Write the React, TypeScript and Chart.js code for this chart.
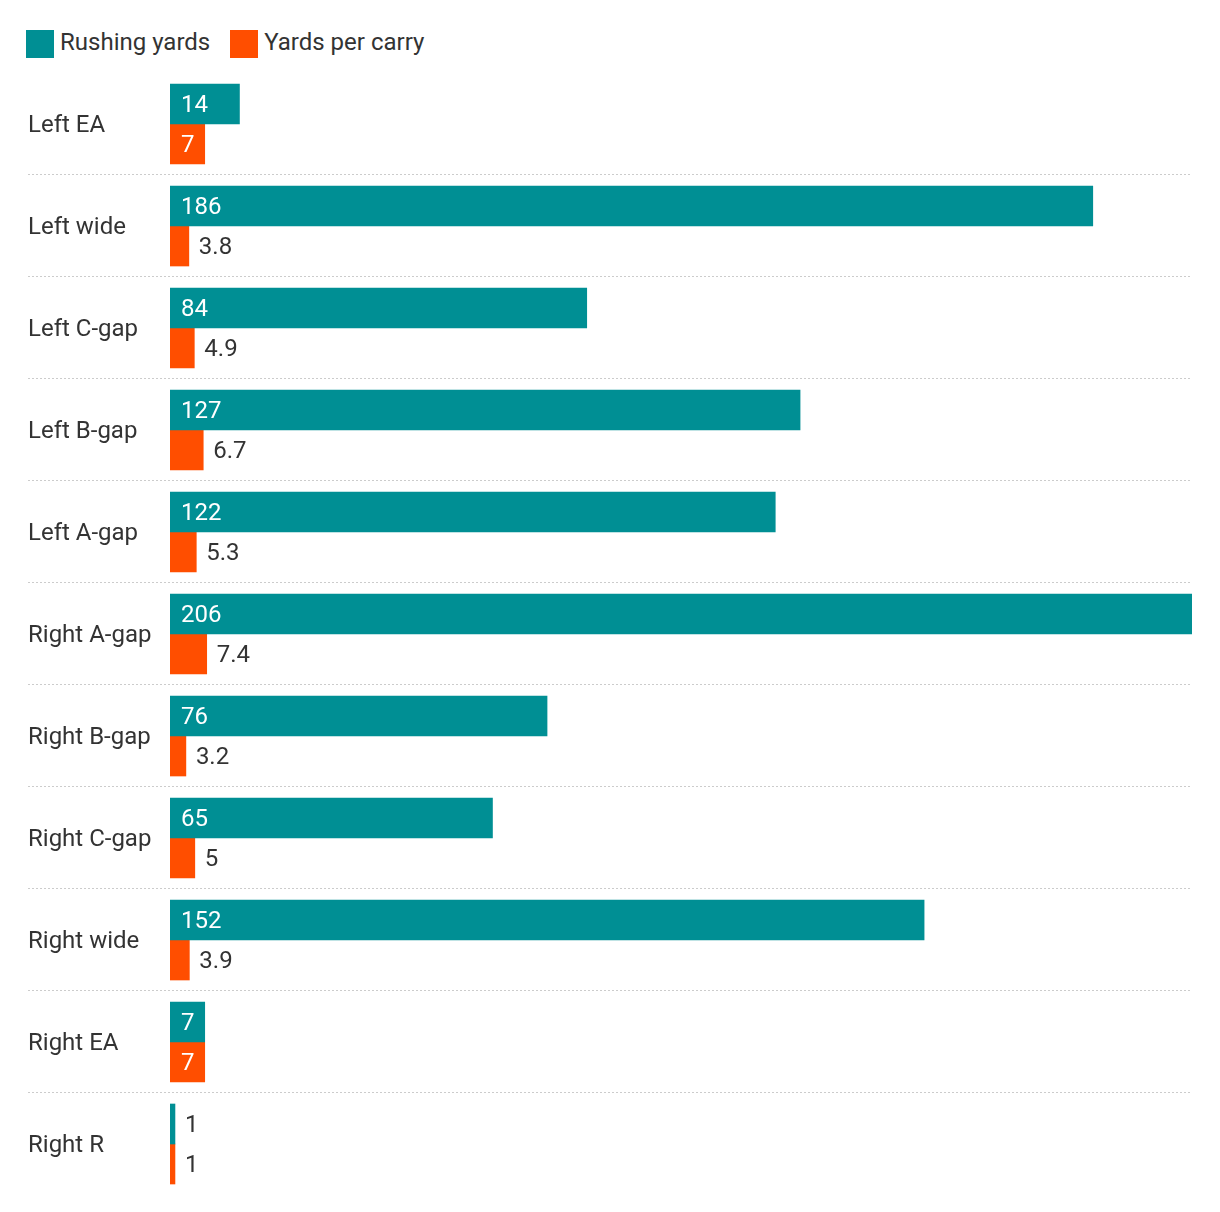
import React, { useEffect, useRef } from "react";
import { Chart, registerables } from "chart.js";

Chart.register(...registerables);

const categories = [
  "Left EA",
  "Left wide",
  "Left C-gap",
  "Left B-gap",
  "Left A-gap",
  "Right A-gap",
  "Right B-gap",
  "Right C-gap",
  "Right wide",
  "Right EA",
  "Right R",
];
const rushingYards = [14, 186, 84, 127, 122, 206, 76, 65, 152, 7, 1];
const yardsPerCarry = [7, 3.8, 4.9, 6.7, 5.3, 7.4, 3.2, 5, 3.9, 7, 1];

const TEAL = "#008f94";
const ORANGE = "#ff4e00";
const TEXT = "#333333";
const FONT = "Roboto, 'Noto Sans', sans-serif";

const separatorPlugin = {
  id: "separators",
  beforeDatasetsDraw(chart: any) {
    const { ctx, chartArea, scales } = chart;
    const y = scales.y;
    ctx.save();
    ctx.strokeStyle = "#cccccc";
    ctx.lineWidth = 1;
    ctx.setLineDash([2, 2]);
    for (let i = 0; i < categories.length - 1; i++) {
      const yy = Math.round((y.getPixelForValue(i) + y.getPixelForValue(i + 1)) / 2) - 0.5;
      ctx.beginPath();
      ctx.moveTo(20, yy);
      ctx.lineTo(chartArea.right, yy);
      ctx.stroke();
    }
    ctx.restore();
  },
};

const valueLabelPlugin = {
  id: "valueLabels",
  afterDatasetsDraw(chart: any) {
    const { ctx } = chart;
    ctx.save();
    ctx.font = `24px ${FONT}`;
    ctx.textBaseline = "middle";
    ctx.textAlign = "left";
    chart.data.datasets.forEach((ds: any, di: number) => {
      const meta = chart.getDatasetMeta(di);
      meta.data.forEach((bar: any, i: number) => {
        const v = ds.data[i];
        const txt = String(v);
        const tw = ctx.measureText(txt).width;
        const w = bar.x - bar.base;
        if (tw + 18 <= w) {
          ctx.fillStyle = "#ffffff";
          ctx.fillText(txt, bar.base + 11, bar.y + 2);
        } else {
          ctx.fillStyle = TEXT;
          ctx.fillText(txt, bar.x + 10, bar.y + 2);
        }
      });
    });
    ctx.restore();
  },
};

export default function App() {
  const ref = useRef<HTMLCanvasElement | null>(null);

  useEffect(() => {
    if (!ref.current) return;
    const chart = new Chart(ref.current, {
      type: "bar",
      data: {
        labels: categories,
        datasets: [
          {
            label: "Rushing yards",
            data: rushingYards,
            backgroundColor: TEAL,
            barThickness: 40,
          },
          {
            label: "Yards per carry",
            data: yardsPerCarry,
            backgroundColor: ORANGE,
            barThickness: 40,
          },
        ],
      },
      options: {
        indexAxis: "y",
        animation: false,
        responsive: false,
        layout: { padding: { left: 20, right: 20, top: 7, bottom: 9 } },
        plugins: {
          legend: { display: false },
          tooltip: { enabled: false },
        },
        scales: {
          x: { display: false, min: 0, max: 206 },
          y: {
            grid: { display: false },
            border: { display: false },
            ticks: {
              autoSkip: false,
              crossAlign: "far",
              padding: 0,
              labelOffset: 2,
              color: TEXT,
              font: { family: FONT, size: 24 },
            },
            afterFit(scale: any) {
              scale.width = 142;
              scale.paddingTop = 0;
              scale.paddingBottom = 0;
            },
          },
        },
      } as any,
      plugins: [separatorPlugin, valueLabelPlugin],
    });
    return () => chart.destroy();
  }, []);

  const legendItem = (color: string, label: string) => (
    <div style={{ display: "flex", alignItems: "center", marginRight: 20 }}>
      <div style={{ width: 28, height: 28, background: color, marginRight: 6 }} />
      <span
        style={{
          fontSize: 24,
          color: TEXT,
          fontFamily: FONT,
          lineHeight: "28px",
          position: "relative",
          top: -2,
        }}
      >
        {label}
      </span>
    </div>
  );

  return (
    <div style={{ width: 1204 }}>
      <div
        style={{
          height: 58,
          boxSizing: "border-box",
          paddingTop: 22,
          paddingLeft: 18,
          display: "flex",
          alignItems: "flex-start",
        }}
      >
        {legendItem(TEAL, "Rushing yards")}
        {legendItem(ORANGE, "Yards per carry")}
      </div>
      <canvas ref={ref} width={1204} height={1138} style={{ display: "block" }} />
    </div>
  );
}
